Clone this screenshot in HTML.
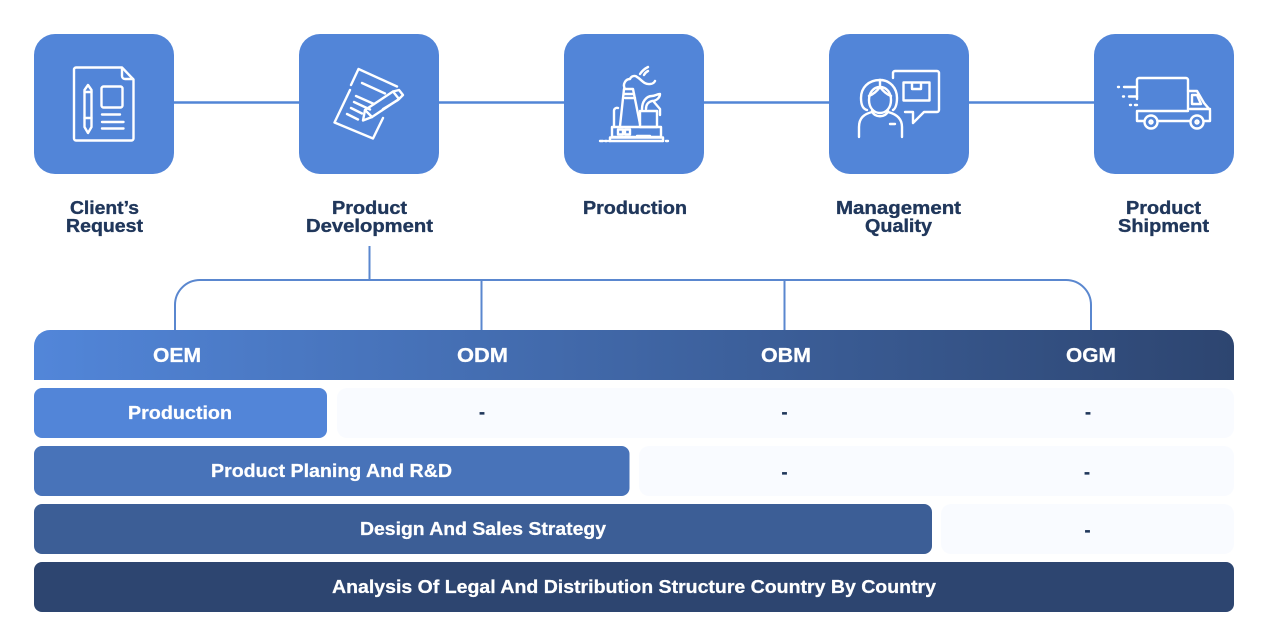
<!DOCTYPE html>
<html lang="en">
<head>
<meta charset="utf-8">
<title>Process diagram</title>
<style>
html,body{margin:0;padding:0;background:#fff;width:1271px;height:640px;overflow:hidden}
svg{display:block}
text{font-family:"Liberation Sans",sans-serif;font-weight:700;font-size:18px}
.d{fill:#20375b;stroke:#20375b;stroke-width:.35px}
.w{fill:#fff;stroke:#fff;stroke-width:.25px}
.h{font-size:20px}
.i{fill:none;stroke:#fff;stroke-width:2.4;stroke-linecap:round;stroke-linejoin:round}
</style>
</head>
<body>
<svg width="1271" height="640" viewBox="0 0 1271 640" xmlns="http://www.w3.org/2000/svg">
<defs>
<linearGradient id="g" x1="0" x2="1" y1="0" y2="0">
<stop offset="0" stop-color="#5286d9"/>
<stop offset="1" stop-color="#2d4570"/>
</linearGradient>
</defs>
<rect width="1271" height="640" fill="#fff"/>

<!-- top connector -->
<line x1="170" y1="102.5" x2="1100" y2="102.5" stroke="#5285d6" stroke-width="2.5"/>

<!-- boxes -->
<rect x="34" y="34" width="140" height="140" rx="21" fill="#5285d8"/>
<rect x="299" y="34" width="140" height="140" rx="21" fill="#5285d8"/>
<rect x="564" y="34" width="140" height="140" rx="21" fill="#5285d8"/>
<rect x="829" y="34" width="140" height="140" rx="21" fill="#5285d8"/>
<rect x="1094" y="34" width="140" height="140" rx="21" fill="#5285d8"/>

<!-- icon 1: document -->
<g class="i">
<path d="M76,67.5H122L133.5,79.500V138.500a2,2 0 0 1-2,2H76a2,2 0 0 1-2-2V69.500a2,2 0 0 1 2-2z"/>
<path d="M122,68V76a3,3 0 0 0 3,3H133"/>
<path d="M84.500,90L88,85L91.500,90V127L88,133L84.500,127z"/>
<path d="M84.500,92H91.500M84.500,118H91.500"/>
<rect x="101.500" y="86.500" width="21" height="21" rx="2"/>
<path d="M102,114.500H120M102,122H123.500M102,128.500H123.500"/>
</g>

<!-- icon 2: note and pen -->
<g class="i">
<path d="M351,85L358.500,69L397,86.500"/>
<path d="M350,90L334.500,122.500L373,138.500L383,118"/>
<path d="M362,83L385,93.500"/>
<path d="M356,96L374,104M354,102L370,109.500M351,108L362,113.500M347,114L358,119.500"/>
<path d="M363,120.500L365,110L393,91.500L399,99L372,117z"/>
<path d="M365,110L372,117"/>
<path d="M393,91.500L399,90L403,95L399,99"/>
<path d="M383,109L398,100"/>
</g>

<!-- icon 3: factory -->
<g class="i">
<path d="M600,141H603M605,141H607M609,141H663M666,141H668"/>
<rect x="612" y="127" width="49" height="10"/>
<path d="M610,141V137.500H663V141"/>
<path d="M614,127V111a3,3 0 0 1 4-3"/>
<path d="M620,126L624,89H633L640,124"/>
<path d="M624,94H634M625,98H635"/>
<path d="M625,89C622,84 626,79 630,79C631,76 635,75 637,77C641,79 644,85 650,84C652,84 654,83 655,81"/>
<path d="M640,74C642,71 644,69 648,67M644,75C645,73 646,72 648,71"/>
<path d="M640,111H657V127H640z"/>
<path d="M642,109C642,102 646,96 652,96C655,96 657,94 660,94C660,98 656,101 652,101C648,102 646,105 646,109"/>
<path d="M654,102L660,109V115"/>
<rect x="618" y="129.500" width="5" height="5"/>
<rect x="625" y="129.500" width="5" height="5"/>
<path d="M637,136H650"/>
</g>

<!-- icon 4: person and speech bubble -->
<g class="i">
<path d="M893,78V73a2,2 0 0 1 2-2H937a2,2 0 0 1 2,2V110a2,2 0 0 1-2,2H924L913,123V112H905"/>
<rect x="903.500" y="82.500" width="26" height="18"/>
<path d="M912,83V89H921V83"/>
<path d="M880,80C868,80 861,88 861,98C861,105 863,109 867,110"/>
<path d="M880,80C890,80 897,88 897,98C897,105 895,109 893,110"/>
<path d="M880,80V87"/>
<path d="M880,87C873,87 869,93 869,100C869,108 874,113 880,113C886,113 891,108 891,100C891,93 887,87 880,87z"/>
<path d="M869,96C874,94 877,91 880,87C883,91 886,94 891,96"/>
<path d="M872,111C874,118 886,118 888,111"/>
<path d="M859,137V127C859,118 864,114 872,112"/>
<path d="M888,112C896,114 902,118 902,127V137"/>
<path d="M890,124H895"/>
</g>

<!-- icon 5: truck -->
<g class="i">
<path d="M1137,99V80a2,2 0 0 1 2-2H1186a2,2 0 0 1 2,2V111H1138"/>
<path d="M1137,111V121H1144"/>
<path d="M1158,121H1190M1204,121H1210V110L1204,103L1197,91H1188"/>
<path d="M1192,95H1197L1201,104H1192z"/>
<path d="M1190,109H1210"/>
<circle cx="1151" cy="122" r="6.500"/>
<circle cx="1197" cy="122" r="6.500"/>
<circle cx="1151" cy="122" r="1.500"/>
<circle cx="1197" cy="122" r="1.500"/>
<path d="M1118,87H1119M1124,87H1137M1123,96.500H1124M1129,96.500H1137M1130,105H1131M1135,105H1137"/>
</g>

<!-- top labels -->
<text class="d" x="70" y="214" textLength="69" lengthAdjust="spacingAndGlyphs">Client’s</text>
<text class="d" x="66" y="232" textLength="77" lengthAdjust="spacingAndGlyphs">Request</text>
<text class="d" x="332" y="214" textLength="75" lengthAdjust="spacingAndGlyphs">Product</text>
<text class="d" x="306" y="232" textLength="127" lengthAdjust="spacingAndGlyphs">Development</text>
<text class="d" x="583" y="214" textLength="104" lengthAdjust="spacingAndGlyphs">Production</text>
<text class="d" x="836" y="214" textLength="125" lengthAdjust="spacingAndGlyphs">Management</text>
<text class="d" x="865" y="232" textLength="67" lengthAdjust="spacingAndGlyphs">Quality</text>
<text class="d" x="1126" y="214" textLength="75" lengthAdjust="spacingAndGlyphs">Product</text>
<text class="d" x="1118" y="232" textLength="91" lengthAdjust="spacingAndGlyphs">Shipment</text>

<!-- bracket connector -->
<g fill="none" stroke="#5a87cf" stroke-width="2">
<path d="M175,331V305a25,25 0 0 1 25-25H1066a25,25 0 0 1 25,25V331"/>
<path d="M369.500,246V280M481.500,280V331M784.500,280V331"/>
</g>

<!-- header -->
<path d="M50,330H1218a16,16 0 0 1 16,16V380H34V346a16,16 0 0 1 16-16z" fill="url(#g)"/>
<text class="w h" x="153" y="362" textLength="48" lengthAdjust="spacingAndGlyphs">OEM</text>
<text class="w h" x="457" y="362" textLength="51" lengthAdjust="spacingAndGlyphs">ODM</text>
<text class="w h" x="761" y="362" textLength="50" lengthAdjust="spacingAndGlyphs">OBM</text>
<text class="w h" x="1066" y="362" textLength="50" lengthAdjust="spacingAndGlyphs">OGM</text>

<!-- light cells -->
<rect x="337" y="388" width="897" height="50" rx="10" fill="#f9fbff"/>
<rect x="639" y="446" width="595" height="50" rx="10" fill="#f9fbff"/>
<rect x="941" y="504" width="293" height="50" rx="10" fill="#f9fbff"/>

<!-- bars -->
<rect x="34" y="388" width="293" height="50" rx="8" fill="#5285d8"/>
<rect x="34" y="446" width="595.500" height="50" rx="8" fill="#4873b9"/>
<rect x="34" y="504" width="898" height="50" rx="8" fill="#3c5e96"/>
<rect x="34" y="562" width="1200" height="50" rx="8" fill="#2d4570"/>

<text class="w" x="128" y="419" textLength="104" lengthAdjust="spacingAndGlyphs">Production</text>
<text class="w" x="211" y="477" textLength="241" lengthAdjust="spacingAndGlyphs">Product Planing And R&amp;D</text>
<text class="w" x="360" y="535" textLength="246" lengthAdjust="spacingAndGlyphs">Design And Sales Strategy</text>
<text class="w" x="332" y="593" textLength="604" lengthAdjust="spacingAndGlyphs">Analysis Of Legal And Distribution Structure Country By Country</text>

<!-- dashes -->
<text class="d" x="482" y="418" text-anchor="middle">-</text>
<text class="d" x="784.500" y="418" text-anchor="middle">-</text>
<text class="d" x="1088" y="418" text-anchor="middle">-</text>
<text class="d" x="784.500" y="478" text-anchor="middle">-</text>
<text class="d" x="1087" y="478" text-anchor="middle">-</text>
<text class="d" x="1087.500" y="536" text-anchor="middle">-</text>
</svg>
</body>
</html>
